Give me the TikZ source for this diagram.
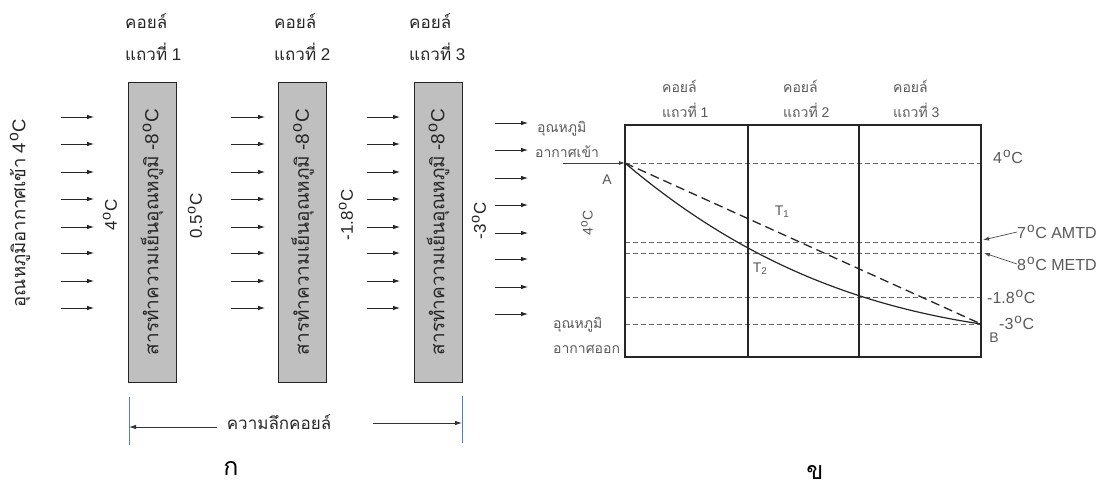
\documentclass[tikz,border=0pt]{standalone}
\usepackage{fontspec}
\setmainfont{Liberation Sans}
\newfontfamily\thai[Script=Thai]{Loma}
\usetikzlibrary{arrows.meta}
\definecolor{tickblue}{RGB}{79,129,189}
\newcommand\dg{\hspace{0.06em}\raisebox{0.7ex}{\scalebox{0.85}{o}}\hspace{0.04em}}

\begin{document}
\begin{tikzpicture}[x=1pt,y=-1pt,
  big/.style={font=\fontsize{17}{20}\selectfont, text=black!85, inner sep=0pt},
  boxtext/.style={font=\fontsize{19}{22}\selectfont, text=black!85, inner sep=0pt},
  small/.style={font=\fontsize{14}{16}\selectfont, text=black!65, inner sep=0pt},
  side/.style={font=\fontsize{16}{18}\selectfont, text=black!65, inner sep=0pt, anchor=west},
  flow/.style={-{Latex[length=7pt,width=4.5pt]}, line width=0.8pt, black!85},
  coilbox/.style={draw=black!85, fill=black!25, line width=0.9pt, minimum width=48pt, minimum height=300pt, inner sep=0pt},
  tick/.style={draw=tickblue, line width=0.9pt},
  dimarrow/.style={-{Latex[length=7pt,width=4.5pt]}, line width=0.8pt, black!80},
  frame/.style={line width=1.6pt, black!85},
  level/.style={dash pattern=on 5pt off 3pt, line width=0.7pt, black!60},
  pointer/.style={-{Latex[length=6pt,width=4pt]}, line width=0.7pt, black!70},
]
\useasboundingbox (0,0) rectangle (1110,493);

% ---------- left panel: three coil rows ----------
\foreach \n/\x in {1/152, 2/302.5, 3/438}{
  \node[coilbox] (coil\n) at (\x,232) {};
  \node[boxtext, rotate=90] (coiltxt\n) at (coil\n) {{\thai สารทำความเย็นอุณหภูมิ} -8\dg C};
}
\foreach \n/\x in {1/125, 2/274, 3/409}{
  \node[big, anchor=base west] (hdA\n) at (\x,28) {\thai คอยล์};
  \node[big, anchor=base west] (hdB\n) at (\x,60) {{\thai แถวที่} \n};
}

% air flow arrows
\foreach \xa/\xb/\dy in {61/94/0, 231/265/0, 367/400/0, 495/528/6}{
  \foreach \y in {117,144,172,199,227,253,281,308}{
    \draw[flow] (\xa,\y+\dy) -- (\xb,\y+\dy);
  }
}

% air temperatures between rows
\node[big, rotate=90, font=\fontsize{18.5}{20}\selectfont] (tin) at (20,213) {{\thai อุณหภูมิอากาศเข้า} 4\dg C};
\node[big, rotate=90] (t0) at (110,215) {4\dg C};
\node[big, rotate=90] (t1) at (195,216) {0.5\dg C};
\node[big, rotate=90] (t2) at (346,215) {-1.8\dg C};
\node[big, rotate=90] (t3) at (479,221) {-3\dg C};

% coil depth dimension
\coordinate (tickL1) at (129,397);
\coordinate (tickL2) at (129,445);
\coordinate (tickR1) at (462,396);
\coordinate (tickR2) at (462,443);
\draw[tick] (tickL1) -- (tickL2);
\draw[tick] (tickR1) -- (tickR2);
\node[big] (depth) at (279,422) {\thai ความลึกคอยล์};
\coordinate (depthL) at (217,427);
\coordinate (depthR) at (373,423);
\draw[dimarrow] (depthL) -- (tickL1 |- depthL);
\draw[dimarrow] (depthR) -- (tickR1 |- depthR);

\node[font=\fontsize{25}{27}\selectfont, inner sep=0pt] (capA) at (231,468) {\thai ก};

% ---------- right panel: temperature profile ----------
\foreach \n/\x in {1/662, 2/783, 3/893}{
  \node[small, anchor=base west] (rhA\n) at (\x,92) {\thai คอยล์};
  \node[small, anchor=base west] (rhB\n) at (\x,117) {{\thai แถวที่} \n};
}

\coordinate (A) at (625,163);
\coordinate (B) at (981,324);

% horizontal temperature levels
\foreach \y in {163,242,253,297,324}{
  \draw[level] (625,\y) -- (981,\y);
}

% frame and row boundaries
\draw[frame] (625,125) rectangle (981,357);
\draw[frame] (748,125) -- (748,357);
\draw[frame] (859,125) -- (859,357);

% entering air line
\coordinate (Ain) at (563,163);
\draw[-{Latex[length=6pt,width=4pt]}, line width=0.8pt, black!75] (Ain) -- (A);

% air temperature curves
\draw[line width=1.2pt, black!85] (A) .. controls (744,264) and (862,306) .. (B);
\draw[line width=1.3pt, black!85, dash pattern=on 9pt off 5pt] (A) -- (B);

% labels in and around the chart
\node[small] (labA) at (607,180) {A};
\node[small] (labB) at (994,338) {B};
\node[small] (lT1) at (782,212) {T\textsubscript{1}};
\node[small] (lT2) at (760,269) {T\textsubscript{2}};
\node[small, rotate=90] (lin) at (587,223) {4\dg C};

\node[small, anchor=base west] (inA) at (537,132) {\thai อุณหภูมิ};
\node[small, anchor=base west] (inB) at (535,157) {\thai อากาศเข้า};
\node[small, anchor=base west] (outA) at (553,328) {\thai อุณหภูมิ};
\node[small, anchor=base west] (outB) at (553,353) {\thai อากาศออก};

\node[side] (r4) at (993,157) {4\dg C};
\node[side] (r7) at (1017,232) {7\dg C\ AMTD};
\node[side] (r8) at (1017,264) {8\dg C\ METD};
\node[side] (r18) at (987,297) {-1.8\dg C};
\node[side] (r3) at (999,323) {-3\dg C};

\coordinate (p7) at (983,240);
\coordinate (p8) at (984,253);
\draw[pointer] (r7.west) -- (p7);
\draw[pointer] (r8.west) -- (p8);

\node[font=\fontsize{25}{27}\selectfont, inner sep=0pt] (capB) at (815,472) {\thai ข};
\end{tikzpicture}
\end{document}
